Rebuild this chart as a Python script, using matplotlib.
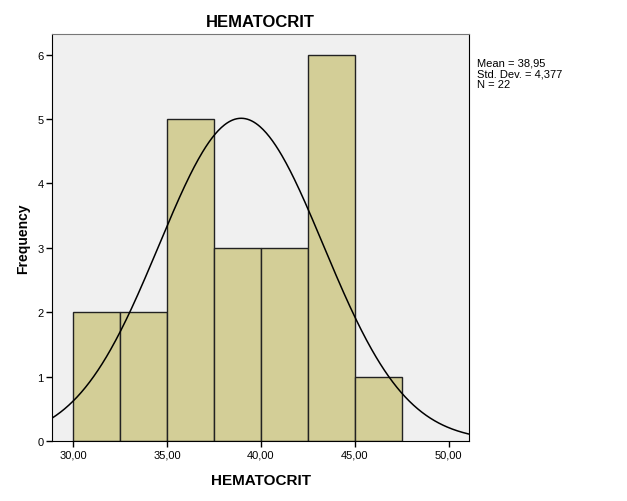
import matplotlib
matplotlib.use("Agg")
import matplotlib.pyplot as plt
import numpy as np

plt.rcParams['font.family'] = ['Liberation Sans', 'DejaVu Sans']

# histogram data (bin edges and counts)
bin_edges = [30.0, 32.5, 35.0, 37.5, 40.0, 42.5, 45.0, 47.5]
counts = [2, 2, 5, 3, 3, 6, 1]
mean = 38.95
std_dev = 4.377
n = 22
xticks = [30, 35, 40, 45, 50]
yticks = [0, 1, 2, 3, 4, 5, 6]

fig = plt.figure(figsize=(6.27, 5.02), dpi=100)
ax = fig.add_axes([0.083, 0.1195, 0.665, 0.8105])
ax.set_facecolor('#f0f0f0')

widths = np.diff(bin_edges)
ax.bar(bin_edges[:-1], counts, width=widths, align='edge',
       color='#d3ce97', edgecolor='#222222', linewidth=1.0, zorder=2)

# normal curve scaled to counts
xs = np.linspace(28.88, 51.08, 400)
bw = widths[0]
ys = n * bw / (std_dev * np.sqrt(2 * np.pi)) * np.exp(-0.5 * ((xs - mean) / std_dev) ** 2)
ax.plot(xs, ys, color='black', linewidth=1.1, zorder=3)

ax.set_xlim(28.88, 51.08)
ax.set_ylim(0, 6.32)
ax.set_xticks(xticks)
ax.set_xticklabels([('%.2f' % v).replace('.', ',') for v in xticks])
ax.set_yticks(yticks)
ax.tick_params(axis='both', labelsize=8, length=4, width=1, color='black', pad=2)

for side in ['left', 'bottom', 'right']:
    ax.spines[side].set_color('black')
ax.spines['top'].set_color('#777777')

ax.set_title('HEMATOCRIT', fontsize=12, fontweight='bold', pad=6)
ax.set_xlabel('HEMATOCRIT', fontsize=11, fontweight='bold', labelpad=10)
ax.set_ylabel('Frequency', fontsize=10, fontweight='bold', labelpad=5)

fig.text(0.761, 0.883, 'Mean = 38,95\nStd. Dev. = 4,377\nN = 22',
         fontsize=8, va='top', ha='left', linespacing=1.1)

fig.savefig('out.png', dpi=100)
